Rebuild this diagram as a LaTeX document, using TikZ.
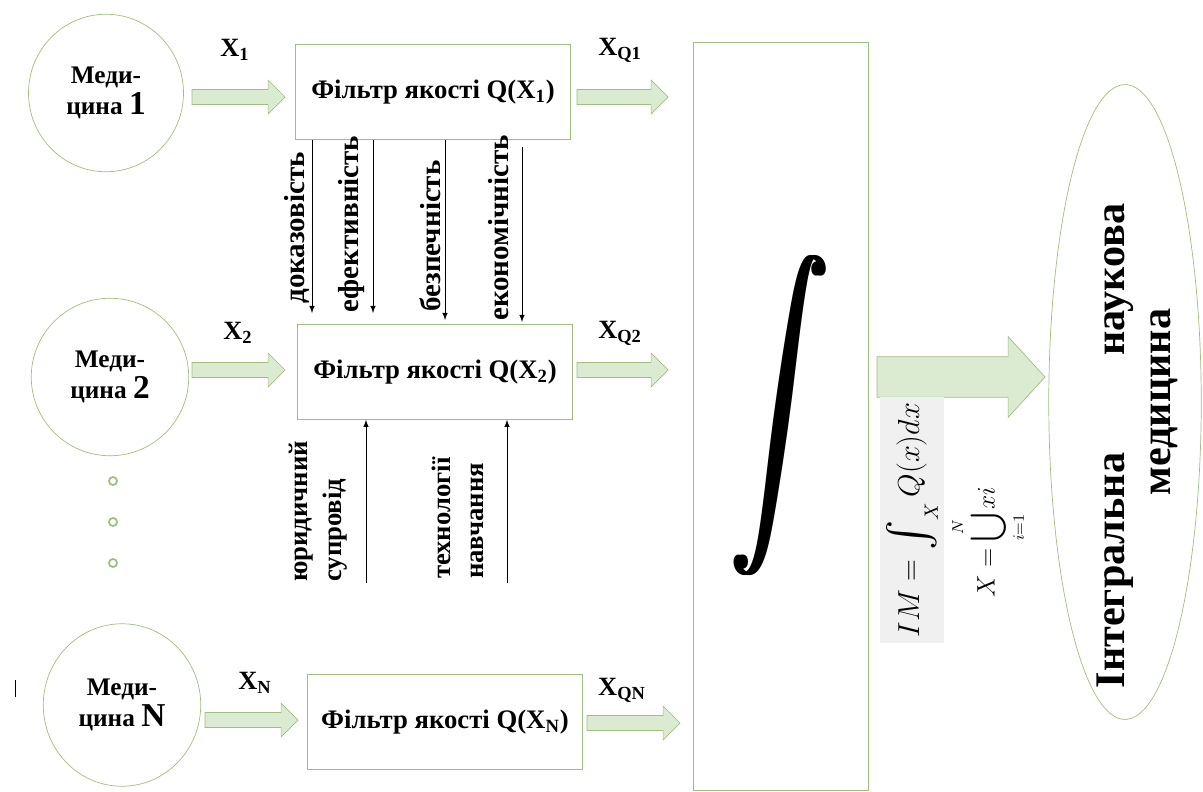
\documentclass[tikz,border=0pt]{standalone}
\usepackage{fontspec}
\setmainfont{Liberation Serif}
\usepackage{amsmath}
\usetikzlibrary{arrows,calc,shapes.geometric}

\definecolor{lgreen}{RGB}{160,190,128}
\definecolor{afill}{RGB}{218,235,210}
\definecolor{fgrey}{RGB}{240,240,240}

% block arrow: start, end, half body, half head, head length
\newcommand{\blockarrow}[5]{%
	\draw[lgreen, fill=afill] let \p1=(#1), \p2=(#2) in
	(\x1,\y1+#3) -- (\x2-#5,\y1+#3) -- (\x2-#5,\y1+#4) -- (\x2,\y1)
	-- (\x2-#5,\y1-#4) -- (\x2-#5,\y1-#3) -- (\x1,\y1-#3) -- cycle;}
\newcommand{\bignum}[1]{{\fontsize{19}{19}\selectfont #1}}
\newcommand{\hugeint}{\scalebox{5.6}[8.2]{$\displaystyle\int$}}

\tikzset{
	med/.style={ellipse, draw=lgreen, align=center, inner sep=0pt,
		font=\fontsize{14.4}{18}\selectfont\bfseries},
	filt/.style={draw=lgreen, minimum width=5.5cm, minimum height=1.9cm,
		font=\fontsize{15.2}{17}\selectfont\bfseries},
	xlab/.style={font=\fontsize{15}{15}\selectfont\bfseries},
	vlab/.style={rotate=90, font=\fontsize{16.5}{18}\selectfont\bfseries},
	slab/.style={rotate=90, anchor=west, align=left, font=\fontsize{15.2}{19}\selectfont\bfseries}
}

\begin{document}
\begin{tikzpicture}[>=latex, x=0.02cm, y=-0.02cm]
	\useasboundingbox (0,0) rectangle (1203,791);
	%\draw [help lines, step=100] (0,0) grid (1203,791);
	%Медицина
	\node[med, minimum width=3.1cm, minimum height=3.15cm] (c1) at (106,93) {Меди-\\цина \bignum{1}};
	\node[med, minimum width=3.15cm, minimum height=3.15cm] (c2) at (110,377) {Меди-\\цина \bignum{2}};
	\node[med, minimum width=3.15cm, minimum height=3.25cm] (cN) at (122,705) {Меди-\\цина \bignum{N}};
	\foreach \y in {481,522,563}
		\draw[lgreen, line width=1pt] (113,\y) circle (2.3pt);
	\draw (15,680) -- (15,697);
	%Фільтри
	\node[filt] (f1) at (433,92) {Фільтр якості Q(X\textsubscript{1})};
	\node[filt] (f2) at (435,372) {Фільтр якості Q(X\textsubscript{2})};
	\node[filt] (fN) at (445,722) {Фільтр якості Q(X\textsubscript{N})};
	%Входи
	\node[xlab] (x1) at (235,50) {X\textsubscript{1}};
	\node[xlab] (x2) at (238,333) {X\textsubscript{2}};
	\node[xlab] (xN) at (255,683) {X\textsubscript{N}};
	\coordinate (a1s) at (192,97); \coordinate (a1e) at (285,97);
	\coordinate (a2s) at (192,370); \coordinate (a2e) at (285,370);
	\coordinate (aNs) at (205,720); \coordinate (aNe) at (298,720);
	\blockarrow{a1s}{a1e}{4.3pt}{9.6pt}{9.6pt}
	\blockarrow{a2s}{a2e}{4.3pt}{9.6pt}{9.6pt}
	\blockarrow{aNs}{aNe}{4.3pt}{9.6pt}{9.6pt}
	%Виходи
	\node[xlab] (q1) at (620,50) {X\textsubscript{Q1}};
	\node[xlab] (q2) at (620,333) {X\textsubscript{Q2}};
	\node[xlab] (qN) at (622,690) {X\textsubscript{QN}};
	\coordinate (b1s) at (577,97); \coordinate (b1e) at (668,97);
	\coordinate (b2s) at (577,370); \coordinate (b2e) at (668,370);
	\coordinate (bNs) at (587,723); \coordinate (bNe) at (680,723);
	\blockarrow{b1s}{b1e}{4.3pt}{9.6pt}{9.6pt}
	\blockarrow{b2s}{b2e}{4.3pt}{9.6pt}{9.6pt}
	\blockarrow{bNs}{bNe}{4.3pt}{9.6pt}{9.6pt}
	%Критерії
	\node[vlab] (k1) at (297,228) {доказовість};
	\node[vlab] (k2) at (352,224) {ефективність};
	\node[vlab] (k3) at (430,236) {безпечність};
	\node[vlab] (k4) at (499,228) {економічність};
	\draw[->] (f1.south -| 312,0) -- (312,313);
	\draw[->] (f1.south -| 373,0) -- (373,313);
	\draw[->] (445,140) -- (445,320);
	\draw[->] (522,147) -- (522,322);
	%Супровід
	\node[slab] (s1) at (318,588) {юридичний\\супровід};
	\node[slab] (s2) at (458,585) {технології\\навчання};
	\draw[->] (366,583) -- (f2.south -| 366,0);
	\draw[->] (507,583) -- (f2.south -| 507,0);
	%Інтеграл
	\node[draw=lgreen, minimum width=3.5cm, minimum height=14.96cm] (integ) at (780.5,416)
		{\rlap{\hugeint}\kern1.5pt\rlap{\hugeint}\kern1.5pt\hugeint};
	\coordinate (cs) at (877,377); \coordinate (ce) at (1045,377);
	\blockarrow{cs}{ce}{11.5pt}{23pt}{21pt}
	%Формули
	\node[rotate=90, fill=fgrey, minimum width=4.2cm, minimum height=1.25cm,
		font=\fontsize{16}{18}\selectfont] (imf) at (912,520)
		{$IM=\mathop{\vcenter{\hbox{\scalebox{1.5}{$\int$}}}}\nolimits_X Q(x)dx$};
	\node[rotate=90, font=\fontsize{13.5}{18}\selectfont] (unf) at (988,542) {$X=\displaystyle\bigcup_{i=1}^{N} xi$};
	%Інтегральна медицина
	\node[ellipse, draw=lgreen, minimum width=3.05cm, minimum height=12.7cm] (im) at (1125,402) {};
	\node[rotate=90, align=center, yshift=-7pt, font=\fontsize{24}{26}\selectfont\bfseries] (imt) at (im.center)
		{Інтегральна\hspace{2.3em}наукова\hspace*{50pt}\\медицина};
\end{tikzpicture}
\end{document}
